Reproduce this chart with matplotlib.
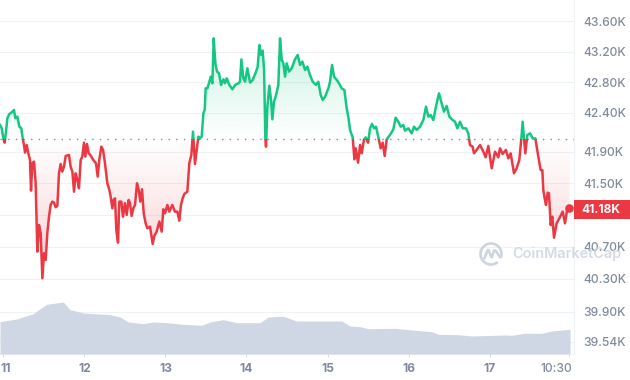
import numpy as np
import matplotlib
matplotlib.use('Agg')
import matplotlib.pyplot as plt
from matplotlib.colors import to_rgb
from matplotlib.patches import Rectangle, Arc
from matplotlib.transforms import blended_transform_factory, ScaledTranslation

plt.rcParams['font.family'] = ['Inter', 'DejaVu Sans']

# price, thousands of USD
days = [
    10.957, 10.978, 10.998, 11.015, 11.031, 11.048, 11.072, 11.097, 11.130, 11.146, 11.171, 11.196, 11.220, 11.237,
    11.253, 11.266, 11.286, 11.307, 11.327, 11.340, 11.356, 11.377, 11.397, 11.418, 11.438, 11.459, 11.480, 11.500,
    11.521, 11.541, 11.562, 11.582, 11.603, 11.624, 11.644, 11.665, 11.685, 11.706, 11.726, 11.747, 11.768, 11.809,
    11.829, 11.850, 11.871, 11.891, 11.912, 11.932, 11.953, 11.973, 11.994, 12.010, 12.031, 12.052, 12.072, 12.109,
    12.142, 12.163, 12.183, 12.208, 12.229, 12.253, 12.282, 12.307, 12.323, 12.344, 12.360, 12.377, 12.393, 12.414,
    12.430, 12.455, 12.475, 12.500, 12.521, 12.545, 12.562, 12.582, 12.603, 12.624, 12.648, 12.669, 12.689, 12.710,
    12.731, 12.755, 12.776, 12.809, 12.842, 12.862, 12.891, 12.924, 12.953, 12.973, 12.994, 13.023, 13.047, 13.084,
    13.117, 13.146, 13.171, 13.191, 13.212, 13.233, 13.270, 13.294, 13.319, 13.340, 13.364, 13.385, 13.406, 13.426,
    13.447, 13.468, 13.484, 13.496, 13.517, 13.542, 13.558, 13.579, 13.595, 13.616, 13.636, 13.661, 13.686, 13.715,
    13.735, 13.756, 13.789, 13.826, 13.859, 13.900, 13.920, 13.937, 13.961, 13.982, 14.011, 14.044, 14.077, 14.118,
    14.138, 14.159, 14.180, 14.200, 14.217, 14.233, 14.241, 14.258, 14.282, 14.303, 14.319, 14.340, 14.365, 14.393,
    14.414, 14.435, 14.455, 14.476, 14.496, 14.525, 14.558, 14.599, 14.632, 14.661, 14.690, 14.723, 14.751, 14.784,
    14.817, 14.858, 14.887, 14.916, 14.941, 14.970, 15.011, 15.031, 15.056, 15.081, 15.114, 15.142, 15.175, 15.208,
    15.237, 15.258, 15.278, 15.311, 15.332, 15.348, 15.377, 15.402, 15.422, 15.451, 15.472, 15.501, 15.525, 15.550,
    15.575, 15.599, 15.628, 15.657, 15.681, 15.706, 15.731, 15.771, 15.813, 15.841, 15.874, 15.903, 15.936, 15.957,
    15.998, 16.039, 16.068, 16.101, 16.142, 16.183, 16.216, 16.245, 16.273, 16.306, 16.339, 16.376, 16.409, 16.438,
    16.471, 16.504, 16.545, 16.574, 16.603, 16.636, 16.669, 16.710, 16.738, 16.759, 16.792, 16.808, 16.841, 16.883,
    16.924, 16.952, 16.985, 17.027, 17.068, 17.109, 17.129, 17.162, 17.203, 17.232, 17.261, 17.302, 17.335, 17.368,
    17.393, 17.409, 17.442, 17.467, 17.500, 17.533, 17.566, 17.599, 17.631, 17.652, 17.664, 17.681, 17.697, 17.718,
    17.734, 17.755, 17.775, 17.796, 17.829, 17.862, 17.903, 17.932, 17.961, 17.985,
]
prices = [
    42.274, 42.231, 42.104, 42.048, 42.189, 42.359, 42.414, 42.431, 42.465, 42.359, 42.380, 42.252, 42.231, 42.104,
    42.019, 41.921, 42.019, 41.912, 41.827, 41.436, 41.785, 41.806, 41.530, 40.658, 40.998, 40.892, 40.318, 40.637,
    40.552, 40.892, 41.104, 41.253, 41.296, 41.283, 41.224, 41.241, 41.657, 41.776, 41.679, 41.742, 41.878, 41.891,
    41.742, 41.679, 41.423, 41.657, 41.572, 41.466, 41.827, 41.870, 42.048, 41.870, 42.031, 41.912, 41.891, 41.827,
    41.785, 41.615, 41.827, 41.997, 41.955, 41.785, 41.530, 41.445, 41.360, 41.211, 41.317, 41.338, 40.934, 40.773,
    41.296, 41.296, 41.104, 41.275, 41.126, 41.317, 41.275, 41.113, 41.211, 41.253, 41.530, 41.445, 41.296, 41.453,
    41.147, 41.019, 40.956, 40.977, 40.756, 40.858, 40.913, 41.041, 40.913, 41.198, 41.147, 41.253, 41.168, 41.253,
    41.168, 41.168, 41.053, 41.253, 41.338, 41.394, 41.423, 41.785, 41.891, 42.189, 41.776, 41.955, 42.125, 42.104,
    42.125, 42.423, 42.465, 42.741, 42.741, 42.826, 42.890, 42.805, 43.379, 43.060, 42.954, 42.933, 42.784, 42.856,
    42.805, 42.869, 42.784, 42.729, 42.784, 42.805, 42.826, 43.111, 42.869, 42.826, 42.997, 42.814, 42.848, 42.954,
    43.018, 43.294, 43.167, 43.222, 42.975, 42.104, 41.997, 42.508, 42.775, 42.593, 42.346, 42.571, 42.656, 42.784,
    43.379, 43.103, 43.060, 42.890, 43.060, 42.954, 42.997, 43.111, 43.167, 43.039, 43.082, 42.975, 43.018, 42.911,
    42.826, 42.784, 42.826, 42.656, 42.593, 42.635, 42.741, 42.826, 43.039, 42.890, 42.848, 42.805, 42.741, 42.720,
    42.486, 42.371, 42.210, 42.116, 41.836, 41.976, 41.793, 42.019, 41.912, 42.091, 42.116, 42.048, 42.231, 42.287,
    42.231, 42.252, 42.116, 41.976, 42.048, 41.878, 42.091, 42.146, 42.218, 42.367, 42.316, 42.252, 42.273, 42.201,
    42.231, 42.167, 42.252, 42.210, 42.252, 42.337, 42.507, 42.380, 42.401, 42.337, 42.507, 42.677, 42.550, 42.444,
    42.516, 42.380, 42.337, 42.316, 42.231, 42.316, 42.231, 42.231, 42.167, 42.018, 41.997, 41.912, 41.955, 42.018,
    41.933, 41.861, 42.006, 41.721, 41.933, 41.861, 41.976, 41.904, 41.955, 41.848, 41.912, 41.657, 41.721, 41.827,
    42.103, 42.316, 41.912, 42.146, 42.167, 42.103, 42.103, 41.891, 41.699, 41.699, 41.444, 41.338, 41.253, 41.410,
    41.402, 40.998, 41.104, 40.836, 41.019, 41.083, 41.168, 41.019, 41.211, 41.219,
]

vol_days = [
    10.957, 11.163, 11.369, 11.451, 11.533, 11.739, 11.821, 11.986, 12.315, 12.438, 12.541, 12.726, 12.850, 13.015,
    13.220, 13.447, 13.549, 13.714, 13.879, 14.167, 14.270, 14.455, 14.619, 14.846, 15.175, 15.278, 15.402, 15.504,
    15.834, 16.039, 16.286, 16.369, 16.615, 16.780, 17.192, 17.274, 17.438, 17.644, 17.768, 17.994,
]
volumes = [
    32.3, 35.0, 40.3, 45.3, 49.7, 52.0, 44.3, 41.0, 39.3, 37.0, 32.0, 30.3, 32.0, 31.3,
    29.7, 28.7, 32.0, 34.3, 31.3, 31.3, 37.0, 37.7, 33.0, 33.0, 33.0, 28.0, 27.3, 25.3,
    25.7, 24.0, 22.3, 19.7, 19.3, 18.0, 19.0, 18.7, 20.7, 20.7, 23.0, 24.7,
]

prev_close = 42.09
last_label = '41.18K'

y_ticks = [43.60, 43.205, 42.82, 42.43, 41.93, 41.53, 41.13, 40.72, 40.31, 39.89, 39.51]
y_labels = ['43.60K', '43.20K', '42.80K', '42.40K', '41.90K', '41.50K', '41.10K', '40.70K', '40.30K', '39.90K', '39.54K']
x_ticks = [11, 12, 13, 14, 15, 16, 17, 17.98]
x_labels = ['11', '12', '13', '14', '15', '16', '17', '10:30']

GREEN = '#16c784'
RED = '#ea3943'
GRID = '#eff2f5'
TEXT = '#808a9d'
VOL = '#cfd6e4'

XLIM = (10.957, 18.043)
YLIM = (39.352, 43.868)


def gradient(color, alpha_first, alpha_last):
    # one column rgba image, first row is the lower edge
    img = np.zeros((256, 1, 4))
    img[:, 0, :3] = to_rgb(color)
    img[:, 0, 3] = np.linspace(alpha_first, alpha_last, 256)
    return img


fig = plt.figure(figsize=(6.3, 3.8), dpi=100)
box = [0, 26 / 380, 574 / 630, 354 / 380]
ax = fig.add_axes(box)

area = ax.fill_between(days, prices, prev_close, color='none', linewidth=0)
clip = area.get_paths()[0]

im_up = ax.imshow(gradient(GREEN, 0.0, 0.24), origin='lower', aspect='auto', zorder=1,
                  extent=[XLIM[0], XLIM[1], prev_close, max(prices)])
im_down = ax.imshow(gradient(RED, 0.24, 0.0), origin='lower', aspect='auto', zorder=1,
                    extent=[XLIM[0], XLIM[1], min(prices), prev_close])
im_up.set_clip_path(clip, transform=ax.transData)
im_down.set_clip_path(clip, transform=ax.transData)

ax.axhline(prev_close, color=TEXT, linewidth=1, linestyle=(0, (1, 4.5)), zorder=1.5)

line_up, = ax.plot(days, prices, color=GREEN, linewidth=1.8, zorder=3, solid_joinstyle='round')
line_down, = ax.plot(days, prices, color=RED, linewidth=1.8, zorder=3, solid_joinstyle='round')
line_up.set_clip_path(Rectangle((XLIM[0], prev_close), XLIM[1] - XLIM[0], YLIM[1] - prev_close, transform=ax.transData))
line_down.set_clip_path(Rectangle((XLIM[0], YLIM[0]), XLIM[1] - XLIM[0], prev_close - YLIM[0], transform=ax.transData))
ax.plot(days[-1], prices[-1], 'o', color=RED, markersize=6.2, markeredgewidth=0, zorder=4)

ax.set_xlim(*XLIM)
ax.set_ylim(*YLIM)
ax.yaxis.tick_right()
ax.set_yticks(y_ticks, y_labels, fontsize=8.7, color=TEXT, fontweight=500)
ax.set_xticks(x_ticks, x_labels, fontsize=8.7, color=TEXT, fontweight=700)
ax.tick_params(axis='y', length=0, pad=6.5)
ax.tick_params(axis='x', length=2.5, width=0.7, color='#d5dae3', pad=3.8)
first, last = ax.get_xticklabels()[0], ax.get_xticklabels()[-1]
first.set_ha('left')
first.set_transform(first.get_transform() + ScaledTranslation(-3.5 / 100, 0, fig.dpi_scale_trans))
last.set_ha('right')
last.set_fontweight(500)
last.set_transform(last.get_transform() + ScaledTranslation(3 / 100, 0, fig.dpi_scale_trans))
ax.grid(axis='y', color=GRID, linewidth=0.8)
ax.set_axisbelow(True)
for side in ['top', 'left']:
    ax.spines[side].set_visible(False)
for side in ['right', 'bottom']:
    ax.spines[side].set_color(GRID)
    ax.spines[side].set_linewidth(0.8)

# volume sits on top so it hides the grid lines behind it
ax_vol = fig.add_axes(box, zorder=2)
ax_vol.patch.set_visible(False)
ax_vol.fill_between(vol_days, volumes, 0, color=VOL, linewidth=0)
ax_vol.set_xlim(*XLIM)
ax_vol.set_ylim(0, 354)
ax_vol.axis('off')

# last price badge
trans = blended_transform_factory(ax.transAxes, ax.transData)
ax.add_patch(Rectangle((1.0, 41.075), 56 / 574, 0.24, transform=trans, facecolor=RED, edgecolor='none',
                       clip_on=False, zorder=5))
ax.text(1 + 27 / 574, 41.195, last_label, transform=trans, color='white', fontsize=8.7, fontweight=700,
        ha='center', va='center', zorder=6, clip_on=False)

# watermark
fig.text(512 / 630, 1 - 254 / 380, 'CoinMarketCap', color='#cdd4e0', alpha=0.85, fontsize=10.4, fontweight=600,
         ha='left', va='center', zorder=5)
logo = fig.add_axes([479 / 630, 1 - 266 / 380, 24 / 630, 24 / 380], zorder=5)
logo.set_xlim(-12, 12)
logo.set_ylim(-12, 12)
logo.axis('off')
logo.add_patch(Arc((0, 0), 21, 21, theta1=-20, theta2=310, color='#cdd4e0', linewidth=1.9))
logo.plot([-6.5, -3.5, -2.5, 0, 1, 3, 4.5, 9], [-4, 3.5, 4, -2.5, -3, 3.5, 3.5, -3], color='#cdd4e0',
          linewidth=1.9, solid_joinstyle='round')

fig.savefig('out.png', dpi=100)
